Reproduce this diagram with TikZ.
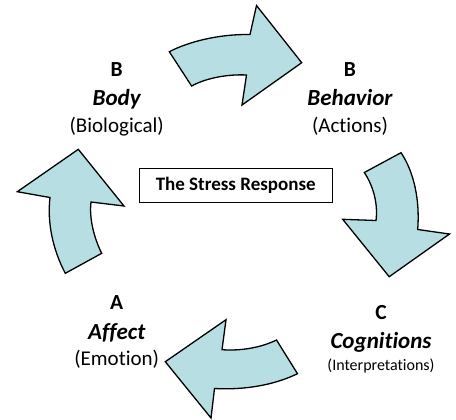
\documentclass[tikz,border=0pt]{standalone}
\usepackage{fontspec}
\setmainfont{Carlito}[Ligatures={NoCommon}]
\begin{document}
\begin{tikzpicture}[x=1bp,y=-1bp,
  arr/.style={draw=black,fill=arrowfill,line width=1.3bp,line join=miter},
  lbl/.style={anchor=base,inner sep=0pt,font=\fontsize{21.5bp}{24bp}\selectfont\bfseries},
  key/.style={anchor=base,inner sep=0pt,font=\fontsize{23bp}{26bp}\selectfont\bfseries\itshape},
  sub/.style={anchor=base,inner sep=0pt,font=\fontsize{21bp}{24bp}\selectfont},
  smallsub/.style={anchor=base,inner sep=0pt,font=\fontsize{16bp}{19bp}\selectfont},
  titlebox/.style={draw=black,line width=1.4bp,minimum width=193bp,minimum height=34bp,inner sep=0pt,font=\fontsize{19bp}{22bp}\selectfont\bfseries}]
\definecolor{arrowfill}{RGB}{183,222,226}
\useasboundingbox (0,0) rectangle (456,419);
% top arrow: Body -> Behavior
\draw[arr] (169.3,51.7) .. controls (188,42) and (218,34) .. (250,34.5) -- (256.5,5.5) -- (301.7,62.7) -- (242,105) -- (246.5,75) .. controls (228,74) and (206,78) .. (191.6,86) -- cycle;
% right arrow: Behavior -> Cognitions
\draw[arr] (364.3,172.5) -- (401,152.7) .. controls (414,172) and (420,200) .. (417.7,229.5) -- (449.5,234) -- (389.2,276.7) -- (342.7,219.3) -- (376,220.5) .. controls (378,205) and (374,187) .. (364.3,172.5) -- cycle;
% bottom arrow: Cognitions -> Affect
\draw[arr] (276.5,340) -- (297.5,373.7) .. controls (272,386) and (242,390) .. (214.5,388.5) -- (211,418) -- (165.3,361.7) -- (226,319.7) -- (222,349.7) .. controls (240,351) and (260,348) .. (276.5,340) -- cycle;
% left arrow: Affect -> Body
\draw[arr] (65.3,273.3) -- (101.7,253.3) .. controls (94,238) and (89,218) .. (91,202) -- (124,206) -- (78.3,149.3) -- (17.3,191.7) -- (50,197.5) .. controls (47,223) and (53,250) .. (65.3,273.3) -- cycle;
% title box
\node[titlebox] (title) at (235.7,185.3) {The Stress Response};
% labels
\node[lbl] (bodyL) at (116.7,76) {B};
\node[key] (body) at (116.7,105.7) {Body};
\node[sub] (bodyS) at (116.7,132.3) {(Biological)};
\node[lbl] (behL) at (350,76) {B};
\node[key] (beh) at (350,105.7) {Behavior};
\node[sub] (behS) at (350,132.3) {(Actions)};
\node[lbl] (affL) at (116.7,309) {A};
\node[key] (aff) at (116.7,339) {Affect};
\node[sub] (affS) at (116.7,365.7) {(Emotion)};
\node[lbl] (cogL) at (381,319.3) {C};
\node[key] (cog) at (381,348.3) {Cognitions};
\node[smallsub] (cogS) at (381,370.7) {(Interpretations)};
\end{tikzpicture}
\end{document}
